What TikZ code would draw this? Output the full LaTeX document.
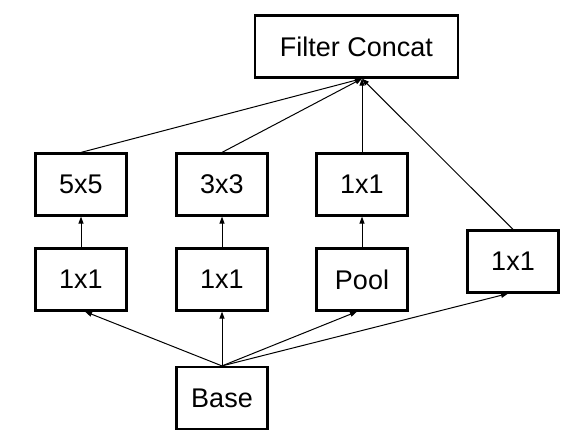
\documentclass[tikz,border=0pt]{standalone}
\usepackage{fontspec}
\setmainfont{Liberation Sans}
\usetikzlibrary{arrows.meta}
\begin{document}
\begin{tikzpicture}[x=1pt,y=-1pt,
  blk/.style={draw, line width=2.2pt, minimum width=91pt, minimum height=62pt, inner sep=0pt, font=\fontsize{27}{30}\selectfont},
  conn/.style={line width=1pt, -{Triangle[length=7pt,width=5pt]}}]
\useasboundingbox (0,0) rectangle (576,440);
\node[blk, minimum width=203pt] (fc) at (356.5,46.5) {Filter Concat};
\node[blk] (c5) at (81,184.5) {5x5};
\node[blk] (c3) at (222,184.5) {3x3};
\node[blk] (c1) at (362,184.5) {1x1};
\node[blk] (r5) at (81,279.5) {1x1};
\node[blk] (r3) at (222,279.5) {1x1};
\node[blk] (pool) at (362,279.5) {Pool};
\node[blk] (rr) at (513,261.5) {1x1};
\node[blk] (base) at (222,398) {Base};
\coordinate (fcin) at ([xshift=5.5pt]fc.south);
\draw[conn] (c5.north) -- (fcin);
\draw[conn] (c3.north) -- (fcin);
\draw[conn] (c1.north) -- (fcin);
\draw[conn] (rr.north) -- (fcin);
\draw[conn] (r5.north) -- (c5.south);
\draw[conn] (r3.north) -- (c3.south);
\draw[conn] (pool.north) -- (c1.south);
\draw[conn] (base.north) -- ([xshift=4pt]r5.south);
\draw[conn] (base.north) -- (r3.south);
\draw[conn] (base.north) -- ([xshift=-5pt]pool.south);
\draw[conn] (base.north) -- ([xshift=-5pt]rr.south);
\end{tikzpicture}
\end{document}
